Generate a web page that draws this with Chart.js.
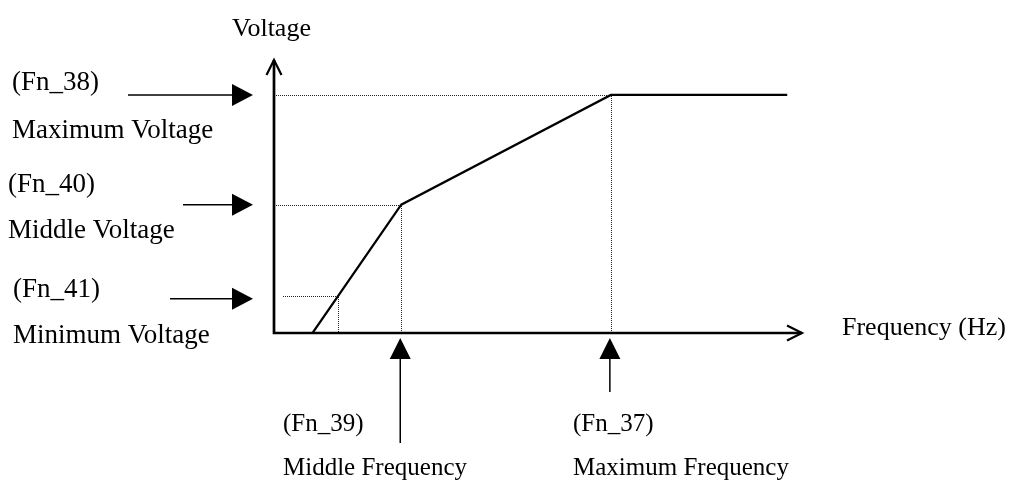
<!DOCTYPE html>
<html>
<head>
<meta charset="utf-8">
<script src="https://cdn.jsdelivr.net/npm/chart.js@4"></script>
<style>
  body { margin: 0; background: #fff; }
  canvas { display: block; }
</style>
</head>
<body>
<canvas id="vf-chart" width="1012" height="481"></canvas>
<script>
// V/F pattern: frequency (x) vs output voltage (y), arbitrary units 0..100
const curveFreq = [7.3, 24.1, 63.8, 97.2];
const curveVolt = [0, 47, 87.2, 87.2];

// parameter points: minimum, middle, maximum
const levelFreq = [12.1, 24.1, 63.8];
const levelVolt = [13.5, 47, 87.2];

const voltCodes = ['(Fn_41)', '(Fn_40)', '(Fn_38)'];
const voltNames = ['Minimum Voltage', 'Middle Voltage', 'Maximum Voltage'];
const freqCodes = ['(Fn_39)', '(Fn_37)'];
const freqNames = ['Middle Frequency', 'Maximum Frequency'];

const xTitle = 'Frequency (Hz)';
const yTitle = 'Voltage';

const SERIF = '"Liberation Serif", "Times New Roman", serif';

function arrowHead(ctx, x, y, dir) {
  // filled triangle, dir = 'right' or 'up'
  ctx.beginPath();
  if (dir === 'right') {
    ctx.moveTo(x, y);
    ctx.lineTo(x - 21, y - 11);
    ctx.lineTo(x - 21, y + 11);
  } else {
    ctx.moveTo(x, y);
    ctx.lineTo(x - 10.5, y + 21);
    ctx.lineTo(x + 10.5, y + 21);
  }
  ctx.closePath();
  ctx.fill();
}

const diagram = {
  id: 'diagram',
  beforeDatasetsDraw(chart) {
    const ctx = chart.ctx;
    const xs = chart.scales.x, ys = chart.scales.y;
    const x0 = xs.getPixelForValue(0), y0 = ys.getPixelForValue(0);

    // dotted guides
    ctx.save();
    ctx.strokeStyle = '#222';
    ctx.lineWidth = 1;
    ctx.setLineDash([1, 1]);
    levelFreq.forEach(function(f, i) {
      const px = Math.round(xs.getPixelForValue(f));
      const py = Math.round(ys.getPixelForValue(levelVolt[i]));
      ctx.beginPath();
      ctx.moveTo(Math.round(x0) + (i === 0 ? 9 : 0), py + 0.5);
      ctx.lineTo(px, py + 0.5);
      ctx.stroke();
      ctx.beginPath();
      ctx.moveTo(px + 0.5, py + 1);
      ctx.lineTo(px + 0.5, Math.round(y0));
      ctx.stroke();
    });
    ctx.restore();

    // axes with open arrowheads
    const xEnd = xs.right, yEnd = ys.top;
    ctx.save();
    ctx.strokeStyle = '#000';
    ctx.lineWidth = 2.7;
    ctx.beginPath();
    ctx.moveTo(x0, yEnd);
    ctx.lineTo(x0, y0);
    ctx.lineTo(xEnd, y0);
    ctx.stroke();
    ctx.lineWidth = 2.2;
    ctx.beginPath();
    ctx.moveTo(x0 - 7.5, yEnd + 15);
    ctx.lineTo(x0, yEnd);
    ctx.lineTo(x0 + 7.5, yEnd + 15);
    ctx.moveTo(xEnd - 15, y0 - 7.5);
    ctx.lineTo(xEnd, y0);
    ctx.lineTo(xEnd - 15, y0 + 7.5);
    ctx.stroke();
    ctx.restore();
  },
  afterDraw(chart) {
    const ctx = chart.ctx;
    const xs = chart.scales.x, ys = chart.scales.y;
    const x0 = xs.getPixelForValue(0), y0 = ys.getPixelForValue(0);

    ctx.save();
    ctx.fillStyle = '#000';
    ctx.strokeStyle = '#000';
    ctx.lineWidth = 1.5;

    // voltage pointers on the left
    const shaftStart = [170, 183, 128];
    levelVolt.forEach(function(v, i) {
      const py = ys.getPixelForValue(v) + (i === 0 ? 2.5 : 0);
      const tip = x0 - 21;
      ctx.beginPath();
      ctx.moveTo(shaftStart[i], py);
      ctx.lineTo(tip - 18, py);
      ctx.stroke();
      arrowHead(ctx, tip, py, 'right');
    });

    // frequency pointers below
    const shaftEnd = [443, 392];
    [levelFreq[1], levelFreq[2]].forEach(function(f, i) {
      const px = xs.getPixelForValue(f) - 1;
      const tip = y0 + 5;
      ctx.beginPath();
      ctx.moveTo(px, tip + 18);
      ctx.lineTo(px, shaftEnd[i]);
      ctx.stroke();
      arrowHead(ctx, px, tip, 'up');
    });

    // text
    ctx.textBaseline = 'alphabetic';
    ctx.textAlign = 'left';
    ctx.font = '26px ' + SERIF;
    ctx.fillText(yTitle, 232, 36);
    ctx.fillText(xTitle, 842, 335);

    ctx.font = '27px ' + SERIF;
    const codeY = [297, 192, 90];
    const nameY = [343, 238, 138];
    const textX = [13, 8, 12];
    voltCodes.forEach(function(t, i) {
      ctx.fillText(t, textX[i], codeY[i]);
      ctx.fillText(voltNames[i], textX[i], nameY[i]);
    });

    ctx.font = '25px ' + SERIF;
    const fX = [283, 573];
    freqCodes.forEach(function(t, i) {
      ctx.fillText(t, fX[i], 431);
      ctx.fillText(freqNames[i], fX[i], 475);
    });
    ctx.restore();
  }
};

new Chart(document.getElementById('vf-chart'), {
  type: 'scatter',
  data: {
    datasets: [{
      data: curveFreq.map(function(f, i) { return { x: f, y: curveVolt[i] }; }),
      showLine: true,
      borderColor: '#000',
      borderWidth: 2.2,
      pointRadius: 0,
      tension: 0
    }]
  },
  options: {
    responsive: false,
    animation: false,
    layout: { padding: { left: 274, right: 210, top: 60, bottom: 148 } },
    plugins: { legend: { display: false }, tooltip: { enabled: false } },
    scales: {
      x: { type: 'linear', min: 0, max: 100, display: false },
      y: { type: 'linear', min: 0, max: 100, display: false }
    }
  },
  plugins: [diagram]
});
</script>
</body>
</html>
